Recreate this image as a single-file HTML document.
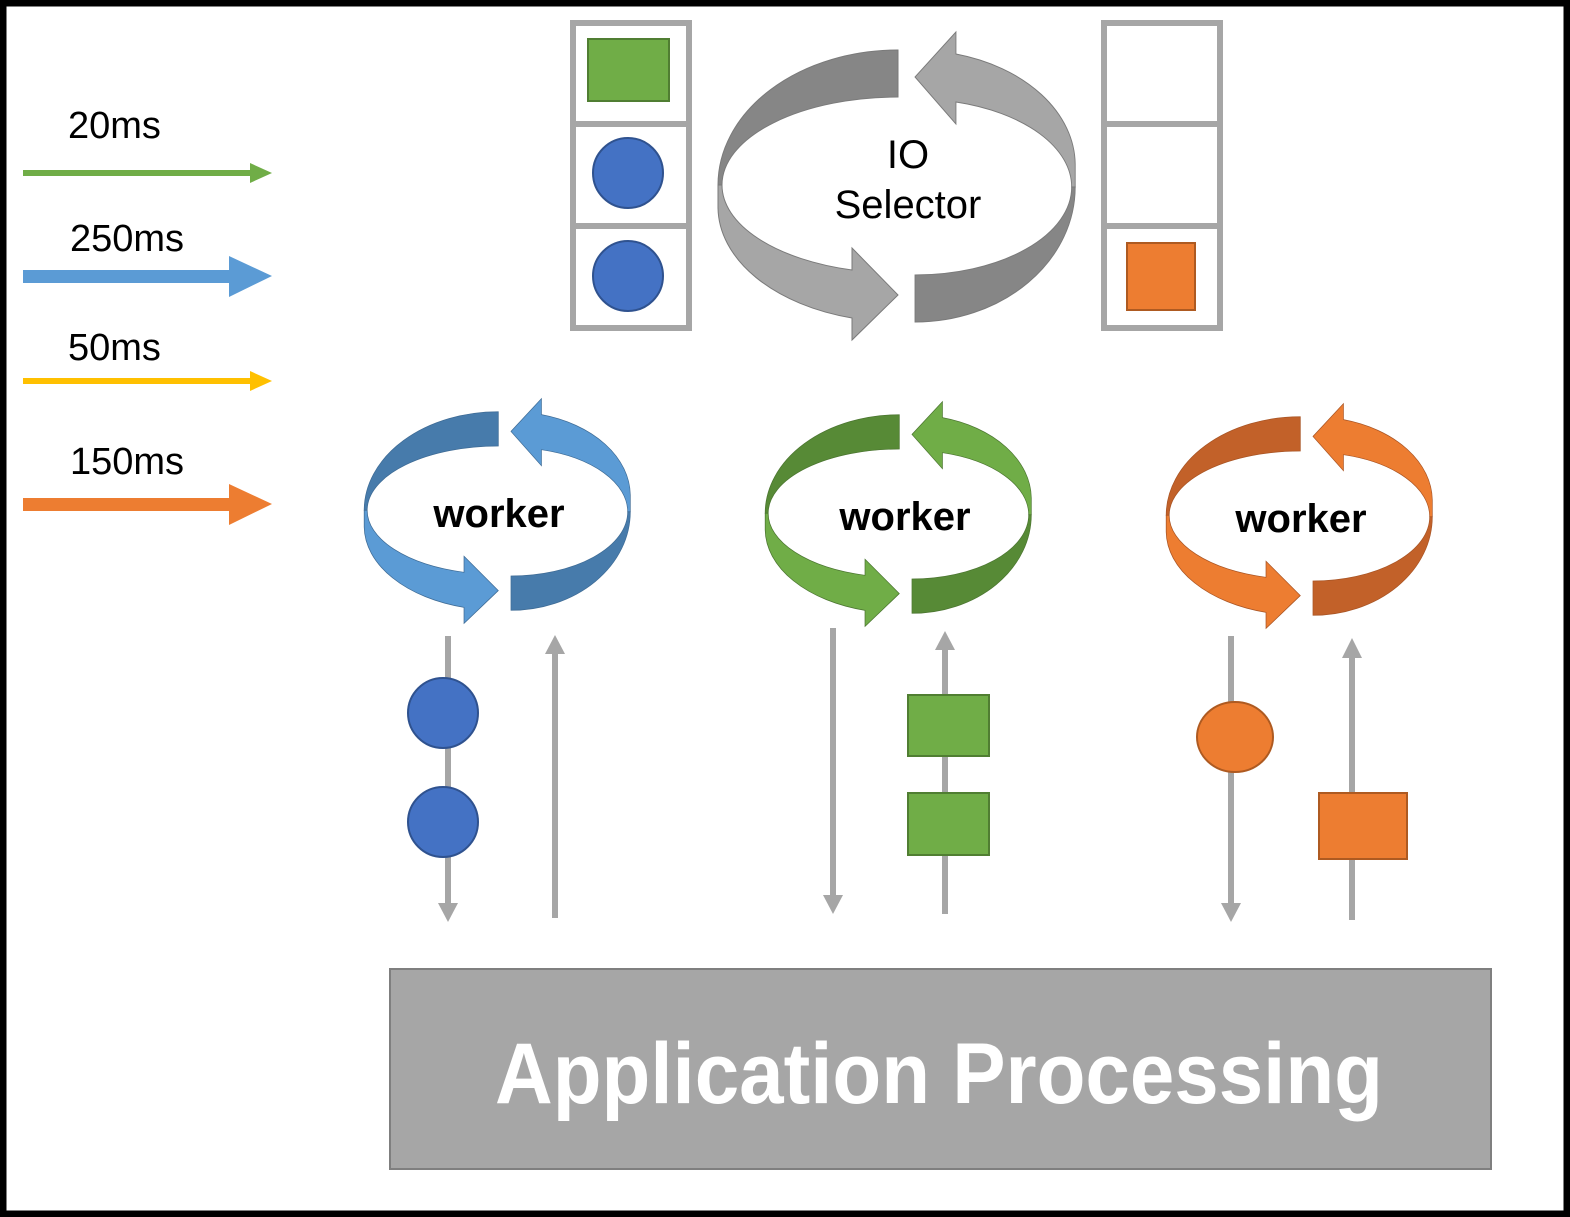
<!DOCTYPE html>
<html><head><meta charset="utf-8"><style>html,body{margin:0;padding:0;background:#fff}svg{display:block}</style></head>
<body>
<svg width="1570" height="1217" viewBox="0 0 1570 1217" xmlns="http://www.w3.org/2000/svg" font-family="Liberation Sans, sans-serif">
<defs>
  <g id="cyc">
    <path d="M-9,-136 A180,135 0 0 0 -189,-1 L-185,-1 A176,88 0 0 1 -9,-89 Z" style="fill:var(--d);stroke:var(--s);stroke-width:1"/>
    <path d="M-189,-1 L-189,22 A180,115 0 0 0 -55,132 L-55,154 L-9,109 L-55,62 L-55,84 A176,88 0 0 1 -185,-1 Z" style="fill:var(--l);stroke:var(--s);stroke-width:1"/>
    <g transform="scale(0.89,1) rotate(180)">
      <path d="M-9,-136 A180,135 0 0 0 -189,-1 L-185,-1 A176,88 0 0 1 -9,-89 Z" style="fill:var(--d);stroke:var(--s);stroke-width:1"/>
      <path d="M-189,-1 L-189,22 A180,115 0 0 0 -55,132 L-55,154 L-9,109 L-55,62 L-55,84 A176,88 0 0 1 -185,-1 Z" style="fill:var(--l);stroke:var(--s);stroke-width:1"/>
    </g>
  </g>
</defs>
<rect x="3" y="3" width="1564" height="1211" fill="#fff" stroke="#000" stroke-width="7"/>

<!-- legend -->
<text x="68" y="138" font-size="38">20ms</text>
<rect x="23" y="170" width="228" height="6" fill="#70ad47"/><polygon points="250,163 272,173 250,183" fill="#70ad47"/>
<text x="70" y="251" font-size="38">250ms</text>
<rect x="23" y="270" width="208" height="13" fill="#5b9bd5"/><polygon points="229,256 272,276 229,297" fill="#5b9bd5"/>
<text x="68" y="360" font-size="38">50ms</text>
<rect x="23" y="378" width="228" height="6" fill="#ffc000"/><polygon points="250,371 272,381 250,391" fill="#ffc000"/>
<text x="70" y="474" font-size="38">150ms</text>
<rect x="23" y="498" width="208" height="13" fill="#ed7d31"/><polygon points="229,484 272,504 229,525" fill="#ed7d31"/>

<!-- queues -->
<rect x="573" y="23" width="116" height="305" fill="#fff" stroke="#a6a6a6" stroke-width="6"/>
<line x1="573" y1="124" x2="689" y2="124" stroke="#a6a6a6" stroke-width="6"/>
<line x1="573" y1="226" x2="689" y2="226" stroke="#a6a6a6" stroke-width="6"/>
<rect x="588" y="39" width="81" height="62" fill="#70ad47" stroke="#507e32" stroke-width="2"/>
<circle cx="628" cy="173" r="35" fill="#4472c4" stroke="#2f528f" stroke-width="2"/>
<circle cx="628" cy="276" r="35" fill="#4472c4" stroke="#2f528f" stroke-width="2"/>
<rect x="1104" y="23" width="116" height="305" fill="#fff" stroke="#a6a6a6" stroke-width="6"/>
<line x1="1104" y1="124" x2="1220" y2="124" stroke="#a6a6a6" stroke-width="6"/>
<line x1="1104" y1="226" x2="1220" y2="226" stroke="#a6a6a6" stroke-width="6"/>
<rect x="1127" y="243" width="68" height="67" fill="#ed7d31" stroke="#ae5a21" stroke-width="2"/>

<!-- IO selector -->
<g style="--d:#868686;--l:#a6a6a6;--s:#7a7a7a" transform="translate(907,186)"><use href="#cyc"/></g>
<text x="908" y="168" font-size="40" text-anchor="middle">IO</text>
<text x="908" y="218" font-size="40" text-anchor="middle">Selector</text>

<!-- workers -->
<g style="--d:#477bab;--l:#5b9bd5;--s:#3e6b95" transform="translate(505,511) scale(0.745,0.73)"><use href="#cyc"/></g>
<g style="--d:#578a36;--l:#70ad47;--s:#4b7530" transform="translate(906,514) scale(0.745,0.73)"><use href="#cyc"/></g>
<g style="--d:#c26129;--l:#ed7d31;--s:#a85424" transform="translate(1307,516) scale(0.745,0.73)"><use href="#cyc"/></g>
<text x="499" y="527" font-size="40" font-weight="bold" text-anchor="middle">worker</text>
<text x="905" y="530" font-size="40" font-weight="bold" text-anchor="middle">worker</text>
<text x="1301" y="532" font-size="40" font-weight="bold" text-anchor="middle">worker</text>

<!-- vertical lines -->
<g fill="#a6a6a6" stroke="none">
  <rect x="445" y="636" width="6" height="270"/><polygon points="438,903 458,903 448,922"/>
  <rect x="552" y="652" width="6" height="266"/><polygon points="545,654 565,654 555,635"/>
  <rect x="830" y="628" width="6" height="270"/><polygon points="823,895 843,895 833,914"/>
  <rect x="942" y="648" width="6" height="266"/><polygon points="935,650 955,650 945,631"/>
  <rect x="1228" y="636" width="6" height="270"/><polygon points="1221,903 1241,903 1231,922"/>
  <rect x="1349" y="656" width="6" height="264"/><polygon points="1342,658 1362,658 1352,638"/>
</g>
<circle cx="443" cy="713" r="35" fill="#4472c4" stroke="#2f528f" stroke-width="2"/>
<circle cx="443" cy="822" r="35" fill="#4472c4" stroke="#2f528f" stroke-width="2"/>
<rect x="908" y="695" width="81" height="61" fill="#70ad47" stroke="#507e32" stroke-width="2"/>
<rect x="908" y="793" width="81" height="62" fill="#70ad47" stroke="#507e32" stroke-width="2"/>
<ellipse cx="1235" cy="737" rx="38" ry="35" fill="#ed7d31" stroke="#ae5a21" stroke-width="2"/>
<rect x="1319" y="793" width="88" height="66" fill="#ed7d31" stroke="#ae5a21" stroke-width="2"/>

<!-- application processing -->
<rect x="390" y="969" width="1101" height="200" fill="#a6a6a6" stroke="#7f7f7f" stroke-width="2"/>
<text x="495" y="1103" font-size="86" font-weight="bold" fill="#fff" textLength="888" lengthAdjust="spacingAndGlyphs">Application Processing</text>
</svg>
</body></html>
